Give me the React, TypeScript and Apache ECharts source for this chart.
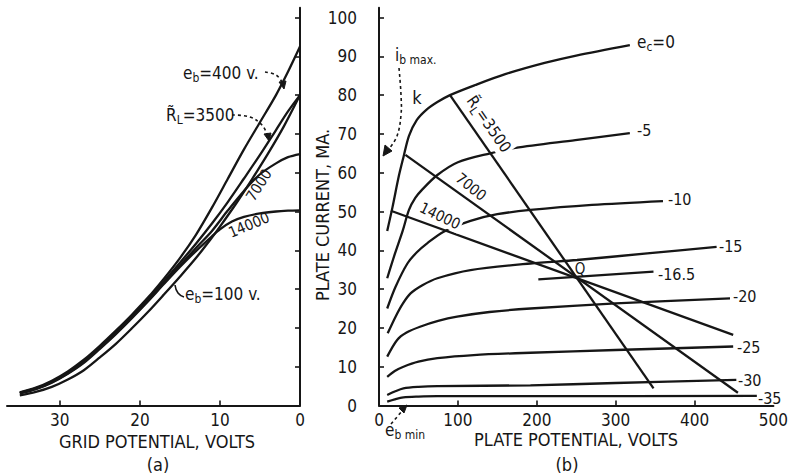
import React, { useEffect, useRef } from "react";
import * as echarts from "echarts";

const FONT = '"Liberation Sans Narrow", "DejaVu Sans Condensed", "Roboto Condensed", "DejaVu Sans", sans-serif';
const INK = "#161616";

// ---------- Panel (a): grid potential (magnitude, volts) vs plate current (mA)
const gridTicks = [10, 20, 30];
const gridLabels = [0, 10, 20, 30];
const currentTicks = [10, 20, 30, 40, 50, 60, 70, 80, 90, 100];
const currentLabels = [0, 10, 20, 30, 40, 50, 60, 70, 80, 90, 100];

const dynEb400 = [[35, 3.4], [33, 4.6], [31, 6.4], [29, 8.8], [27, 11.8], [25, 15.4], [23, 19.3], [21, 23.4], [19, 27.8], [17, 32.7], [15, 38], [13, 44], [11, 51], [9, 58.5], [7, 66], [5, 73], [3, 80], [1.5, 86], [0, 92.5]];
const dynR3500 = [[35, 3.3], [33, 4.4], [31, 6.1], [29, 8.5], [27, 11.4], [25, 15], [23, 18.9], [21, 23], [19, 27.4], [17, 32], [15, 36.8], [13, 41.7], [11, 46.9], [9, 52.5], [7, 58.5], [5, 64.6], [3, 71], [1.5, 75.8], [0, 80]];
const dynR7000 = [[35, 3.2], [33, 4.3], [31, 6], [29, 8.3], [27, 11.2], [25, 14.8], [23, 18.6], [21, 22.7], [19, 27], [17, 31.6], [15, 36.1], [13, 40.6], [11, 45], [9, 50.3], [7, 55.3], [5, 59.6], [3, 62.4], [1.5, 64], [0, 64.8]];
const dynR14000 = [[35, 3.1], [33, 4.2], [31, 5.9], [29, 8.2], [27, 11], [25, 14.6], [23, 18.4], [21, 22.5], [19, 26.8], [17, 31.3], [15, 35.7], [13, 39.8], [11, 43.6], [10, 45.4], [8.5, 47.4], [7, 48.6], [5, 49.5], [3, 50], [1.5, 50.2], [0, 50.3]];
const dynEb100 = [[35, 2.6], [33, 3.5], [31, 4.8], [29, 6.7], [27, 9.1], [25, 12.4], [23, 15.9], [21, 19.9], [19, 24.1], [17, 28.6], [15, 33.2], [13, 38], [11, 43.3], [10, 46.1], [8, 52], [6, 58.3], [4, 64.9], [2, 72], [0, 80]];

// ---------- Panel (b): plate potential (volts) vs plate current (mA)
const plateTicks = [100, 200, 300, 400];
const plateLabels = [0, 100, 200, 300, 400, 500];

const ec0 = [[10.4, 45], [17, 51], [25, 59], [31, 64], [38, 69.5], [48, 73.6], [60, 76.2], [74, 78.2], [90, 80], [122, 82.6], [160, 85.4], [210, 88.3], [250, 90.2], [318, 92.9]];
const ec5 = [[10.4, 32.8], [20, 39], [30, 45], [38, 50.4], [46, 53.5], [55, 55.7], [74, 59.4], [100, 62.7], [141, 65], [173, 66.4], [249, 68.4], [318, 70.2]];
const ec10 = [[10.4, 25], [21, 30.6], [36, 36.6], [48, 39.5], [61, 41.8], [82, 44.8], [116, 47.6], [150, 49.3], [192, 50.4], [270, 51.7], [360, 52.7]];
const ec15 = [[11, 18.6], [21, 22.9], [30, 26.2], [40, 28.9], [55, 31], [74, 32.8], [116, 34.9], [192, 36.6], [251, 37.5], [340, 39.2], [428, 40.9]];
const ec165 = [[202, 32.5], [348, 34.5]];
const ec20 = [[10.4, 12.6], [23, 16.9], [35, 18.8], [52, 20.3], [75, 21.8], [99, 22.9], [140, 24.1], [192, 25], [300, 26.3], [445, 27.6]];
const ec25 = [[10.4, 7.4], [20, 8.9], [31, 10], [50, 11.3], [74, 12.2], [120, 13], [192, 13.6], [300, 14.3], [449, 15.2]];
const ec30 = [[10.4, 2.7], [20, 3.6], [31, 4.4], [50, 4.8], [74, 5], [192, 5.2], [300, 5.8], [453, 6.6]];
const ec35 = [[10.4, 1], [20, 1.6], [31, 2.1], [50, 2.3], [74, 2.4], [200, 2.4], [479, 2.5]];

const load3500 = [[90, 80], [348, 4.4]];
const load7000 = [[33.5, 64.6], [455, 3.3]];
const load14000 = [[15, 50.2], [449, 18.2]];

function curve(data: number[][], xi: number, yi: number, smooth = true) {
  return {
    type: "line",
    data,
    xAxisIndex: xi,
    yAxisIndex: yi,
    smooth: smooth ? 0.3 : false,
    showSymbol: false,
    symbol: "none",
    lineStyle: { color: INK, width: 2.3 },
    silent: true,
    z: 3,
  };
}

let measureCtx: CanvasRenderingContext2D | null = null;
function measure(text: string, size: number) {
  if (!measureCtx) measureCtx = document.createElement("canvas").getContext("2d");
  if (!measureCtx) return text.length * size * 0.55;
  measureCtx.font = `${size}px ${FONT}`;
  return measureCtx.measureText(text).width;
}

function txt(text: string, x: number, y: number, size = 16, extra: any = {}) {
  return {
    type: "text",
    x,
    y,
    rotation: extra.rotation || 0,
    z: 10,
    style: {
      text,
      fill: INK,
      font: `${size}px ${FONT}`,
      align: extra.align || "center",
      verticalAlign: "middle",
      backgroundColor: extra.bg,
      padding: extra.bg ? [1, 2] : undefined,
    },
  };
}

// label made of normal and subscript parts, laid out side by side
function subLabel(parts: [string, boolean][], x: number, y: number, size: number, opts: any = {}) {
  const items = parts.map(([t, isSub]) => ({ t, isSub, fs: isSub ? Math.round(size * 0.72) : size }));
  const widths = items.map((it) => measure(it.t, it.fs));
  const total = widths.reduce((a, b) => a + b, 0);
  let cx = opts.align === "center" ? -total / 2 : 0;
  const children: any[] = [];
  if (opts.bg) {
    children.push({
      type: "rect", z: 10,
      shape: { x: cx - 2, y: -size * 0.62, width: total + 4, height: size * 1.3 },
      style: { fill: "#ffffff" },
    });
  }
  items.forEach((it, i) => {
    children.push({
      type: "text", z: 11, x: cx, y: it.isSub ? size * 0.32 : 0,
      style: { text: it.t, fill: INK, font: `${it.fs}px ${FONT}`, align: "left", verticalAlign: "middle" },
    });
    cx += widths[i];
  });
  return { type: "group", x, y, rotation: opts.rotation || 0, z: 10, children };
}

function dashed(points: number[][], head: number[][]) {
  return [
    {
      type: "polyline",
      z: 10,
      shape: { points, smooth: 0.4 },
      style: { stroke: INK, lineWidth: 1.6, lineDash: [3, 3], fill: null },
    },
    {
      type: "polygon",
      z: 10,
      shape: { points: head },
      style: { fill: INK, stroke: INK, lineWidth: 1 },
    },
  ];
}

export default function App() {
  const ref = useRef<HTMLDivElement>(null);
  useEffect(() => {
    if (!ref.current) return;
    const chart = echarts.init(ref.current, null, { renderer: "svg" });
    const axisLine = { show: true, onZero: false, lineStyle: { color: INK, width: 2 } };
    const tickStyle = { show: true, inside: true, length: 5, lineStyle: { color: INK, width: 1.6 } };
    const labelStyle = { color: INK, fontFamily: FONT, fontSize: 17 };
    const option: any = {
      animation: false,
      backgroundColor: "#ffffff",
      grid: [
        { left: 7, top: 7.8, width: 293, height: 397.7 },
        { left: 379, top: 7.8, width: 395, height: 397.7 },
      ],
      xAxis: [
        {
          type: "value", gridIndex: 0, inverse: true, min: 0, max: 36.6, interval: 10,
          axisLine, splitLine: { show: false },
          axisTick: { ...tickStyle, customValues: gridTicks },
          axisLabel: { ...labelStyle, margin: 6, customValues: gridLabels },
        },
        {
          type: "value", gridIndex: 1, min: 0, max: 500, interval: 100,
          axisLine, splitLine: { show: false },
          axisTick: { ...tickStyle, customValues: plateTicks },
          axisLabel: { ...labelStyle, margin: 6, customValues: plateLabels },
        },
      ],
      yAxis: [
        {
          type: "value", gridIndex: 0, position: "right", min: 0, max: 102.5, interval: 10,
          axisLine, splitLine: { show: false },
          axisTick: { ...tickStyle, customValues: currentTicks },
          axisLabel: { show: false },
        },
        {
          type: "value", gridIndex: 1, position: "left", min: 0, max: 102.5, interval: 10,
          axisLine, splitLine: { show: false },
          axisTick: { ...tickStyle, customValues: currentTicks },
          axisLabel: { ...labelStyle, margin: 22, customValues: currentLabels },
        },
      ],
      series: [
        curve(dynEb400, 0, 0),
        curve(dynR3500, 0, 0),
        curve(dynR7000, 0, 0),
        curve(dynR14000, 0, 0),
        curve(dynEb100, 0, 0),
        curve(ec0, 1, 1),
        curve(ec5, 1, 1),
        curve(ec10, 1, 1),
        curve(ec15, 1, 1),
        curve(ec165, 1, 1, false),
        curve(ec20, 1, 1),
        curve(ec25, 1, 1),
        curve(ec30, 1, 1),
        curve(ec35, 1, 1),
        curve(load3500, 1, 1, false),
        curve(load7000, 1, 1, false),
        curve(load14000, 1, 1, false),
      ],
      graphic: [
        // axis titles
        txt("PLATE CURRENT, MA.", 322, 215, 18, { rotation: Math.PI / 2 }),
        txt("GRID POTENTIAL, VOLTS", 157, 441, 18),
        txt("PLATE POTENTIAL, VOLTS", 576, 439, 18),
        txt("(a)", 158, 464, 18),
        txt("(b)", 567, 464, 18),
        // panel (a) annotations
        subLabel([["e", false], ["b", true], ["=400 v.", false]], 183, 73, 17),
        subLabel([["R\u0303", false], ["L", true], ["=3500", false]], 166, 115, 17),
        txt("7000", 259, 185, 15, { rotation: 1.0 }),
        txt("14000", 249, 225, 15, { rotation: 0.4 }),
        subLabel([["e", false], ["b", true], ["=100 v.", false]], 185, 294, 17),
        ...dashed([[265, 72], [276, 75], [282, 82]], [[284, 89], [279, 82], [286, 81]]),
        ...dashed([[232, 115], [250, 117], [262, 125], [267, 134]], [[269, 141], [264, 134], [271, 133]]),
        {
          type: "polyline", z: 10,
          shape: { points: [[184, 297], [178, 293], [175, 285]], smooth: 0.5 },
          style: { stroke: INK, lineWidth: 1.6, fill: null },
        },
        // panel (b) annotations
        subLabel([["e", false], ["c", true], ["=0", false]], 637, 42, 17),
        txt("-5", 637, 130, 16, { align: "left" }),
        txt("-10", 668, 199, 16, { align: "left" }),
        txt("-15", 719, 246, 16, { align: "left" }),
        txt("-16.5", 658, 274, 16, { align: "left" }),
        txt("-20", 733, 296, 16, { align: "left" }),
        txt("-25", 737, 347, 16, { align: "left" }),
        txt("-30", 738, 380, 16, { align: "left" }),
        txt("-35", 758, 398, 16, { align: "left" }),
        txt("k", 417, 97, 18),
        txt("Q", 580, 269, 15),
        subLabel([["i", false], ["b max.", true]], 395, 55, 17),
        subLabel([["e", false], ["b min", true]], 385, 430, 17),
        subLabel([["R\u0303", false], ["L", true], ["=3500", false]], 489, 124, 16, { align: "center", rotation: -0.965, bg: true }),
        txt("7000", 471, 187, 15, { rotation: -0.68, bg: "#ffffff" }),
        txt("14000", 440, 216, 15, { rotation: -0.45, bg: "#ffffff" }),
        ...dashed([[399, 68], [401, 95], [401, 115], [397, 136], [389, 149]], [[383, 156], [385, 145], [392, 151]]),
        ...dashed([[391, 424], [397, 417], [402, 411]], [[407, 405], [399, 408], [404, 413]]),
      ],
    };
    chart.setOption(option);
    return () => chart.dispose();
  }, []);
  return (
    <div
      ref={ref}
      style={{ position: "absolute", left: 0, top: 0, width: 791, height: 476, background: "#fff" }}
    />
  );
}
